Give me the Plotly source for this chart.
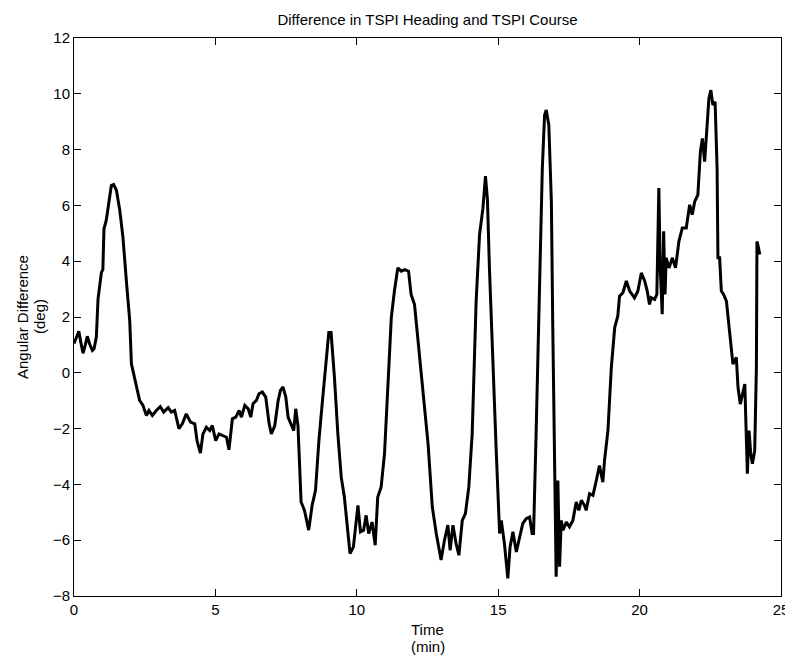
import plotly.graph_objects as go

# time (min) and heading-course difference (deg)
time_min = [
    0.00, 0.10, 0.17, 0.24, 0.32, 0.40, 0.47, 0.55, 0.65, 0.71, 0.79, 0.85, 0.97, 1.02,
    1.06, 1.14, 1.24, 1.32, 1.40, 1.50, 1.62, 1.73, 1.87, 1.97, 2.03, 2.11, 2.21, 2.32,
    2.44, 2.56, 2.65, 2.77, 2.91, 3.05, 3.17, 3.33, 3.44, 3.56, 3.71, 3.83, 3.97, 4.12,
    4.27, 4.35, 4.47, 4.56, 4.68, 4.80, 4.89, 5.01, 5.13, 5.27, 5.39, 5.48, 5.60, 5.72,
    5.84, 5.92, 6.04, 6.16, 6.25, 6.33, 6.45, 6.54, 6.66, 6.78, 6.90, 6.98, 7.10, 7.22,
    7.30, 7.39, 7.49, 7.57, 7.65, 7.77, 7.84, 7.92, 8.03, 8.15, 8.30, 8.42, 8.54, 8.66,
    8.78, 8.89, 9.01, 9.09, 9.21, 9.33, 9.45, 9.56, 9.68, 9.76, 9.88, 10.04, 10.13, 10.24,
    10.33, 10.42, 10.54, 10.65, 10.74, 10.86, 10.98, 11.10, 11.22, 11.33, 11.45, 11.57,
    11.69, 11.83, 11.92, 12.04, 12.16, 12.28, 12.40, 12.52, 12.67, 12.81, 12.98, 13.10,
    13.22, 13.30, 13.40, 13.51, 13.61, 13.73, 13.84, 13.96, 14.08, 14.22, 14.34, 14.46,
    14.55, 14.62, 14.69, 14.81, 14.93, 15.05, 15.11, 15.22, 15.34, 15.42, 15.52, 15.64,
    15.75, 15.87, 15.99, 16.11, 16.20, 16.25, 16.34, 16.46, 16.56, 16.64, 16.70, 16.79,
    16.88, 16.93, 16.99, 17.05, 17.11, 17.17, 17.23, 17.29, 17.41, 17.52, 17.64, 17.76,
    17.85, 17.94, 18.05, 18.11, 18.23, 18.35, 18.47, 18.58, 18.70, 18.76, 18.88, 19.00,
    19.12, 19.23, 19.29, 19.41, 19.53, 19.65, 19.82, 19.94, 20.06, 20.18, 20.27, 20.35,
    20.41, 20.53, 20.61, 20.68, 20.73, 20.80, 20.85, 20.90, 20.94, 21.04, 21.16, 21.27,
    21.39, 21.51, 21.65, 21.77, 21.86, 21.95, 22.06, 22.15, 22.22, 22.30, 22.38, 22.45,
    22.52, 22.59, 22.67, 22.74, 22.77, 22.83, 22.89, 22.97, 23.07, 23.13, 23.25, 23.30,
    23.42, 23.48, 23.56, 23.66, 23.72, 23.77, 23.81, 23.87, 23.93, 23.99, 24.07, 24.13,
    24.15, 24.20, 24.25,
]
ang_diff = [
    1.05, 1.35, 1.49, 1.10, 0.70, 1.00, 1.31, 1.04, 0.80, 0.86, 1.28, 2.65, 3.60, 3.70,
    5.16, 5.46, 6.12, 6.71, 6.75, 6.54, 5.82, 4.86, 3.07, 1.88, 0.32, -0.04, -0.51, -0.99,
    -1.17, -1.53, -1.35, -1.53, -1.35, -1.21, -1.41, -1.25, -1.41, -1.35, -2.00, -1.83, -1.47, -1.77,
    -1.83, -2.43, -2.88, -2.19, -1.95, -2.07, -1.89, -2.43, -2.19, -2.25, -2.31, -2.76, -1.65, -1.59,
    -1.35, -1.59, -1.17, -1.29, -1.59, -1.11, -0.99, -0.75, -0.69, -0.87, -1.83, -2.19, -1.89, -0.99,
    -0.63, -0.51, -0.87, -1.59, -1.77, -2.07, -1.29, -1.90, -4.63, -4.93, -5.64, -4.75, -4.21, -2.43,
    -1.06, 0.07, 1.44, 1.44, -0.17, -2.19, -3.74, -4.45, -5.76, -6.48, -6.24, -4.75, -5.70, -5.64,
    -5.11, -5.76, -5.35, -6.18, -4.45, -4.10, -2.90, -0.29, 1.98, 2.93, 3.76, 3.64,
    3.70, 3.64, 2.81, 2.45, 1.14, -0.17, -1.48, -2.55, -4.81, -5.76, -6.71, -6.00,
    -5.46, -6.36, -5.46, -6.12, -6.54, -5.29, -5.05, -4.10, -2.19, 2.57, 4.95, 5.90,
    7.05, 6.20, 3.76, 0.19, -2.79, -5.76, -5.29, -6.12, -7.37, -6.24, -5.70, -6.42,
    -5.88, -5.40, -5.23, -5.17, -5.76, -5.76, -2.19, 2.80, 7.33, 9.24, 9.42, 8.88,
    6.14, 1.62, -3.62, -7.31, -3.86, -6.95, -5.29, -5.64, -5.35, -5.52, -5.29, -4.63,
    -4.93, -4.57, -4.75, -4.93, -4.33, -4.39, -3.86, -3.32, -3.92, -3.14, -2.07, 0.19,
    1.62, 2.04, 2.75, 2.87, 3.29, 2.93, 2.69, 2.93, 3.58, 3.29, 2.93, 2.45,
    2.69, 2.63, 2.81, 6.62, 3.76, 2.10, 5.07, 2.81, 4.12, 3.76, 4.12, 3.76,
    4.71, 5.19, 5.19, 6.02, 5.67, 6.14, 6.38, 7.93, 8.40, 7.57, 8.76, 9.83,
    10.13, 9.60, 9.71, 7.33, 4.12, 4.12, 2.93, 2.81, 2.57, 1.98, 1.02, 0.31,
    0.55, -0.52, -1.12, -0.64, -0.40, -2.19, -3.62, -2.07, -2.90, -3.26, -2.79, 0.19,
    4.71, 4.50, 4.24,
]

x_ticks = [0, 5, 10, 15, 20, 25]
y_ticks = [-8, -6, -4, -2, 0, 2, 4, 6, 8, 10, 12]

# the page body adds an 8px margin, so the figure is drawn 8px smaller each way
W, H = 785, 649
L, R, T, B = 66, 12, 30, 61
pw, ph = W - L - R, H - T - B

fig = go.Figure()
fig.add_trace(go.Scatter(x=time_min, y=ang_diff, mode='lines',
                         line=dict(color='black', width=3), showlegend=False))

axis_style = dict(showline=True, linecolor='black', linewidth=1, mirror='ticks',
                  ticks='inside', ticklen=7, tickcolor='black', showgrid=False,
                  zeroline=False, automargin=False, tickfont=dict(size=15, color='black'))

fig.update_layout(
    width=W, height=H,
    margin=dict(l=L, r=R, t=T, b=B),
    paper_bgcolor='white', plot_bgcolor='white',
    font=dict(family='Liberation Sans, Arial, sans-serif', size=15, color='black'),
    title=dict(text='Difference in TSPI Heading and TSPI Course', x=(L + pw / 2) / W,
               xanchor='center', y=1 - 12 / H, yanchor='middle', font=dict(size=15)),
    xaxis=dict(range=[0, 25], tickvals=x_ticks, **axis_style),
    yaxis=dict(range=[-8, 12], tickvals=y_ticks, **axis_style),
)

# axis titles placed like the MATLAB original (two centred lines)
fig.add_annotation(text='Time', xref='paper', yref='paper', x=0.5, y=-(621 - T - ph) / ph,
                   showarrow=False, xanchor='center', yanchor='middle', font=dict(size=15))
fig.add_annotation(text='(min)', xref='paper', yref='paper', x=0.5, y=-(638 - T - ph) / ph,
                   showarrow=False, xanchor='center', yanchor='middle', font=dict(size=15))
fig.add_annotation(text='Angular Difference', xref='paper', yref='paper', x=-(L - 14) / pw,
                   y=0.5, textangle=-90, showarrow=False, xanchor='center', yanchor='middle',
                   font=dict(size=15))
fig.add_annotation(text='(deg)', xref='paper', yref='paper', x=-(L - 31) / pw,
                   y=0.5, textangle=-90, showarrow=False, xanchor='center', yanchor='middle',
                   font=dict(size=15))

fig.write_html("out.html")
